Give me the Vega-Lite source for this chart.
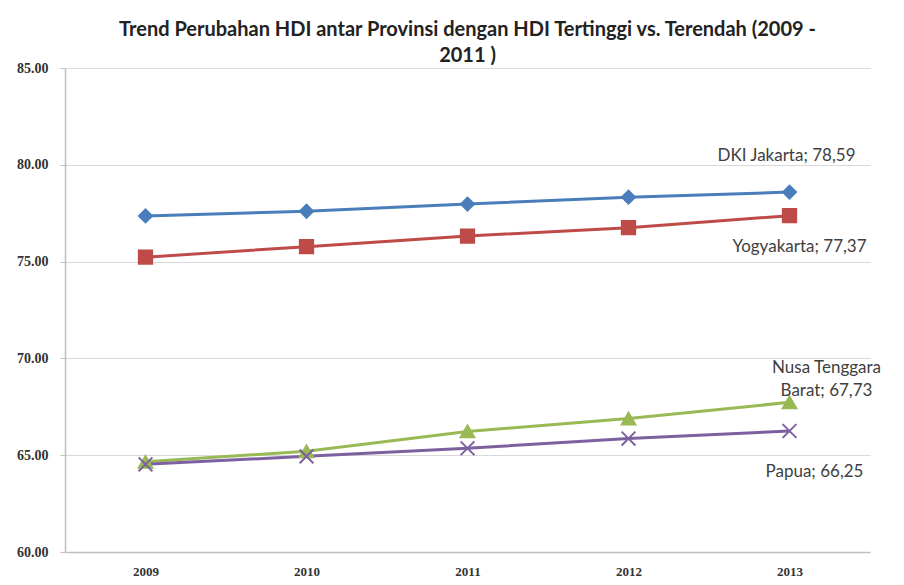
{
  "$schema": "https://vega.github.io/schema/vega-lite/v6.json",
  "autosize": "none",
  "width": 805,
  "height": 484,
  "padding": {"left": 65, "top": 68, "right": 34, "bottom": 33},
  "background": "white",
  "title": {
    "text": ["Trend Perubahan HDI antar Provinsi dengan HDI Tertinggi vs. Terendah (2009 -", "2011 )"],
    "anchor": "middle",
    "font": "Lato",
    "fontSize": 20,
    "fontWeight": "bold",
    "color": "#222222",
    "lineHeight": 26,
    "offset": -5
  },
  "datasets": {
    "hdi": [
      {"series": "DKI Jakarta", "year": "2009", "value": 77.36},
      {"series": "DKI Jakarta", "year": "2010", "value": 77.60},
      {"series": "DKI Jakarta", "year": "2011", "value": 77.97},
      {"series": "DKI Jakarta", "year": "2012", "value": 78.33},
      {"series": "DKI Jakarta", "year": "2013", "value": 78.59},
      {"series": "Yogyakarta", "year": "2009", "value": 75.23},
      {"series": "Yogyakarta", "year": "2010", "value": 75.77},
      {"series": "Yogyakarta", "year": "2011", "value": 76.32},
      {"series": "Yogyakarta", "year": "2012", "value": 76.75},
      {"series": "Yogyakarta", "year": "2013", "value": 77.37},
      {"series": "Nusa Tenggara Barat", "year": "2009", "value": 64.66},
      {"series": "Nusa Tenggara Barat", "year": "2010", "value": 65.20},
      {"series": "Nusa Tenggara Barat", "year": "2011", "value": 66.23},
      {"series": "Nusa Tenggara Barat", "year": "2012", "value": 66.89},
      {"series": "Nusa Tenggara Barat", "year": "2013", "value": 67.73},
      {"series": "Papua", "year": "2009", "value": 64.53},
      {"series": "Papua", "year": "2010", "value": 64.94},
      {"series": "Papua", "year": "2011", "value": 65.36},
      {"series": "Papua", "year": "2012", "value": 65.86},
      {"series": "Papua", "year": "2013", "value": 66.25}
    ],
    "labels": [
      {"series": "DKI Jakarta", "year": "2013", "value": 78.59, "label": "DKI Jakarta; 78,59"},
      {"series": "Yogyakarta", "year": "2013", "value": 77.37, "label": "Yogyakarta; 77,37"},
      {"series": "Nusa Tenggara Barat", "year": "2013", "value": 67.73, "label": "Nusa Tenggara\nBarat; 67,73"},
      {"series": "Papua", "year": "2013", "value": 66.25, "label": "Papua; 66,25"}
    ]
  },
  "encoding": {
    "x": {
      "field": "year", "type": "ordinal",
      "scale": {"type": "point", "padding": 0.5},
      "axis": {
        "title": null, "labelAngle": 0, "grid": false, "ticks": false,
        "domainColor": "#bfbfbf", "domainWidth": 1.5,
        "labelFont": "Liberation Serif", "labelFontWeight": "bold", "labelFontSize": 13,
        "labelColor": "#333333", "labelPadding": 13
      }
    },
    "y": {
      "field": "value", "type": "quantitative",
      "scale": {"domain": [60, 85], "nice": false, "zero": false},
      "axis": {
        "title": null, "values": [60, 65, 70, 75, 80, 85], "format": ".2f",
        "grid": true, "gridColor": "#d9d9d9", "gridWidth": 1,
        "domainColor": "#bfbfbf", "domainWidth": 1.5,
        "tickColor": "#bfbfbf", "tickSize": 5,
        "labelFont": "Liberation Serif", "labelFontWeight": "bold", "labelFontSize": 14,
        "labelColor": "#333333", "labelPadding": 12
      }
    }
  },
  "layer": [
    {
      "data": {"name": "hdi"},
      "mark": {"type": "line", "strokeWidth": 3},
      "encoding": {
        "color": {
          "field": "series", "type": "nominal", "legend": null,
          "scale": {
            "domain": ["DKI Jakarta", "Yogyakarta", "Nusa Tenggara Barat", "Papua"],
            "range": ["#4a7ebb", "#be4b48", "#98b954", "#7d60a0"]
          }
        },
        "order": {"field": "year"}
      }
    },
    {
      "data": {"name": "hdi"},
      "mark": {"type": "point", "filled": true, "opacity": 1, "strokeWidth": 2},
      "encoding": {
        "color": {
          "field": "series", "type": "nominal", "legend": null,
          "scale": {
            "domain": ["DKI Jakarta", "Yogyakarta", "Nusa Tenggara Barat", "Papua"],
            "range": ["#4a7ebb", "#be4b48", "#98b954", "#7d60a0"]
          }
        },
        "stroke": {
          "field": "series", "type": "nominal", "legend": null,
          "scale": {
            "domain": ["DKI Jakarta", "Yogyakarta", "Nusa Tenggara Barat", "Papua"],
            "range": ["#4a7ebb", "#be4b48", "#98b954", "#7d60a0"]
          }
        },
        "shape": {
          "field": "series", "type": "nominal", "legend": null,
          "scale": {
            "domain": ["DKI Jakarta", "Yogyakarta", "Nusa Tenggara Barat", "Papua"],
            "range": ["diamond", "square", "triangle-up", "M-1,-1L1,1M-1,1L1,-1"]
          }
        },
        "size": {
          "field": "series", "type": "nominal", "legend": null,
          "scale": {
            "domain": ["DKI Jakarta", "Yogyakarta", "Nusa Tenggara Barat", "Papua"],
            "range": [170, 190, 150, 180]
          }
        }
      }
    },
    {
      "data": {"name": "labels"},
      "transform": [{"filter": "datum.series == 'DKI Jakarta'"}],
      "mark": {"type": "text", "align": "center", "baseline": "alphabetic", "dx": -3, "dy": -31, "font": "Lato", "fontSize": 17, "color": "#404040"},
      "encoding": {"text": {"field": "label"}}
    },
    {
      "data": {"name": "labels"},
      "transform": [{"filter": "datum.series == 'Yogyakarta'"}],
      "mark": {"type": "text", "align": "center", "baseline": "alphabetic", "dx": 10, "dy": 36, "font": "Lato", "fontSize": 17, "color": "#404040"},
      "encoding": {"text": {"field": "label"}}
    },
    {
      "data": {"name": "labels"},
      "transform": [{"filter": "datum.series == 'Nusa Tenggara Barat'"}],
      "mark": {"type": "text", "align": "center", "baseline": "alphabetic", "dx": 37, "dy": -29, "lineBreak": "\n", "lineHeight": 23, "font": "Lato", "fontSize": 17, "color": "#404040"},
      "encoding": {"text": {"field": "label"}}
    },
    {
      "data": {"name": "labels"},
      "transform": [{"filter": "datum.series == 'Papua'"}],
      "mark": {"type": "text", "align": "center", "baseline": "alphabetic", "dx": 25, "dy": 46, "font": "Lato", "fontSize": 17, "color": "#404040"},
      "encoding": {"text": {"field": "label"}}
    }
  ],
  "config": {"view": {"stroke": null}}
}
